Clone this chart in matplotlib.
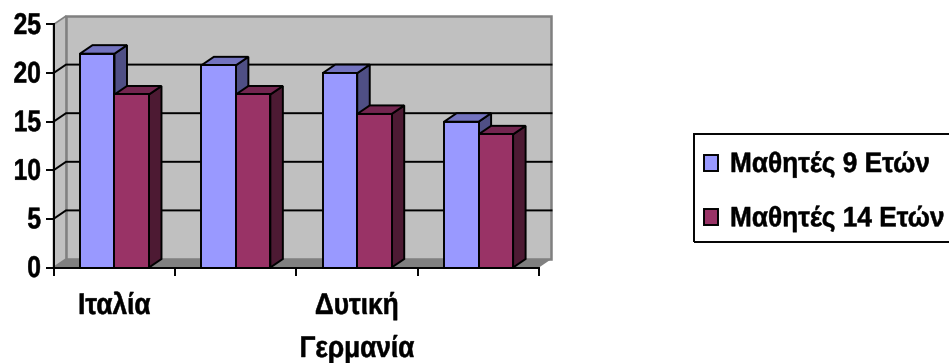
import matplotlib
matplotlib.use('Agg')
import matplotlib.pyplot as plt
from matplotlib.patches import Patch, Polygon, Rectangle
from matplotlib.patheffects import AbstractPathEffect
from matplotlib.transforms import Affine2D

plt.rcParams['font.family'] = 'Liberation Sans'
plt.rcParams['font.weight'] = 'bold'

countries = ['Ιταλία', '', 'Δυτική\nΓερμανία', '']
series_names = ['Μαθητές 9 Ετών', 'Μαθητές 14 Ετών']
pupils_9 = [22, 20.8, 20, 15]
pupils_14 = [17.8, 17.8, 15.8, 13.7]
y_ticks = [0, 5, 10, 15, 20, 25]

face_colors = ['#9999ff', '#993366']
top_colors = ['#7373bf', '#732650']
side_colors = ['#4f4f85', '#4d1a33']


class Tall(AbstractPathEffect):
    """Draw glyphs stretched upwards from the baseline, for a condensed look."""

    def __init__(self, k, stroke=0.35):
        super().__init__()
        self.k = k
        self.stroke = stroke

    def draw_path(self, renderer, gc, path, affine, rgbFace=None):
        gc2 = renderer.new_gc()
        gc2.copy_properties(gc)
        gc2.set_linewidth(self.stroke)
        gc2.set_foreground('black')
        renderer.draw_path(gc2, path, Affine2D().scale(1, self.k) + affine, rgbFace)
        gc2.restore()


W, H = 949, 363
fig = plt.figure(figsize=(W / 100, H / 100), dpi=100)
ax = fig.add_axes([53.5 / W, 1 - 267.5 / H, 485.5 / W, 243 / H])
ax.set_xlim(0, 4)
ax.set_ylim(0, 25)
ax.patch.set_visible(False)

# offset of the back wall from the front plane
dx = 12.5 / 121.4
dy = 8.5 / 9.72


def poly(points, color, z, edge='none', lw=0):
    ax.add_patch(Polygon(points, closed=True, facecolor=color, edgecolor=edge,
                         linewidth=lw, zorder=z, clip_on=False, joinstyle='miter'))


# walls and floor
poly([(dx, dy), (4 + dx, dy), (4 + dx, 25 + dy), (dx, 25 + dy)], '#c0c0c0', 1, '#808080', 1.8)
poly([(0, 0), (dx, dy), (dx, 25 + dy), (0, 25)], '#c0c0c0', 1, '#808080', 1.2)
poly([(0, 0), (4, 0), (4 + dx, dy), (dx, dy)], '#808080', 1.5)

for v in y_ticks[1:-1]:
    ax.plot([0, dx, 4 + dx], [v, v + dy, v + dy], color='black', lw=1.4, zorder=2,
            clip_on=False, solid_joinstyle='miter')

# 3D bars, back faces first so the neighbouring bar overlaps properly
bar_w = 34.5 / 121.4
for i in range(len(countries)):
    start = i + 26.5 / 121.4
    for j, vals in enumerate([pupils_9, pupils_14]):
        x0 = start + j * bar_w
        x1 = x0 + bar_w
        v = vals[i]
        z = 3 + j
        poly([(x1, 0), (x1 + dx, dy), (x1 + dx, v + dy), (x1, v)], side_colors[j], z, 'black', 1.4)
        poly([(x0, v), (x1, v), (x1 + dx, v + dy), (x0 + dx, v + dy)], top_colors[j], z, 'black', 1.4)
        ax.add_patch(Rectangle((x0, 0), bar_w, v, facecolor=face_colors[j], edgecolor='black',
                               linewidth=1.4, zorder=z + 0.5, clip_on=False))

for side in ['top', 'right']:
    ax.spines[side].set_visible(False)
for side in ['left', 'bottom']:
    ax.spines[side].set_linewidth(1.4)
    ax.spines[side].set_zorder(6)

ax.set_yticks(y_ticks)
ax.set_xticks(range(5))
ax.set_xticklabels([])
ax.tick_params(axis='both', width=1.4, length=5.5, color='black')
ax.tick_params(axis='y', labelsize=17.7, pad=3.5)
for label in ax.get_yticklabels():
    label.set_path_effects([Tall(1.22)])

# category labels sit in the middle of each tick interval
for i, name in enumerate(countries):
    if name:
        # the baseline anchor of a wrapped label is its last line
        offset = -46.5 - 43 * name.count('\n')
        ax.annotate(name, xy=(i + 0.5, 0), xycoords='data', xytext=(0, offset),
                    textcoords='offset pixels', ha='center', va='baseline', fontsize=18.9,
                    linespacing=2.0, path_effects=[Tall(1.14)])

handles = [Patch(facecolor=face_colors[0], edgecolor='black', linewidth=1.4),
           Patch(facecolor=face_colors[1], edgecolor='black', linewidth=1.4)]
leg = fig.legend(handles, series_names, loc='upper left', bbox_to_anchor=(704 / W, 1 - 153 / H),
                 bbox_transform=fig.transFigure, fontsize=18.9, frameon=False, borderaxespad=0,
                 borderpad=0, handlelength=0.54, handleheight=0.54, handletextpad=0.45,
                 labelspacing=1.15)
for t in leg.get_texts():
    t.set_path_effects([Tall(1.07)])

# legend box runs past the right edge of the figure
fig.add_artist(Rectangle((694 / W, 1 - 242 / H), 270 / W, 108 / H, transform=fig.transFigure,
                         fill=False, edgecolor='black', linewidth=1.4))

fig.savefig('out.png', dpi=100)
